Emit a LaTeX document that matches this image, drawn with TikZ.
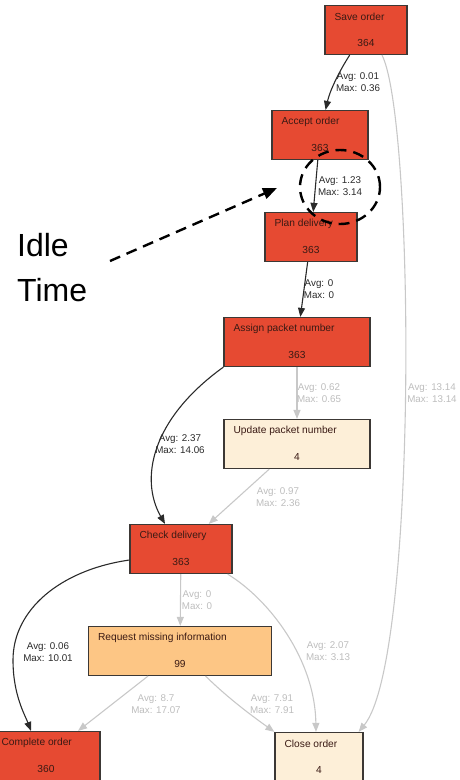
\documentclass[tikz,border=0pt]{standalone}
\usepackage{fontspec}
\setmainfont{Liberation Sans}
\usepackage{xcolor}
\usepackage{tikz}
\usetikzlibrary{arrows.meta,calc,positioning,shapes.geometric}
\definecolor{busyred}{HTML}{E64A32}
\definecolor{lowbeige}{HTML}{FDEFD8}
\definecolor{midorange}{HTML}{FDC685}
\definecolor{boxline}{HTML}{3C3835}
\definecolor{boxtext}{HTML}{3A1A14}
\definecolor{darkedge}{HTML}{2A2A2A}
\definecolor{lightedge}{HTML}{C8C8C8}
\definecolor{lightlabel}{HTML}{BDBDBD}
\tikzset{
  actbox/.style={draw=boxline,line width=1.2pt,minimum height=49pt,inner sep=0pt},
  acttitle/.style={anchor=west,inner sep=0pt,text=boxtext,font=\fontsize{10.2}{12}\selectfont},
  actcount/.style={inner sep=0pt,text=boxtext,font=\fontsize{10.2}{12}\selectfont},
  busyflow/.style={-{Triangle[length=9pt,width=7pt]},line width=1.1pt,darkedge},
  quietflow/.style={-{Triangle[length=9pt,width=7pt]},line width=1.1pt,lightedge},
  busylabel/.style={align=center,inner sep=0pt,text=darkedge,font=\fontsize{9.8}{12.5}\selectfont},
  quietlabel/.style={align=center,inner sep=0pt,text=lightlabel,font=\fontsize{9.8}{12.5}\selectfont},
  idlering/.style={ellipse,draw=black,line width=2.4pt,dash pattern=on 11pt off 7pt,minimum width=80pt,minimum height=74pt},
  idlearrow/.style={-{Triangle[length=14pt,width=11pt]},line width=2.4pt,dash pattern=on 11pt off 7pt},
  idletext/.style={anchor=north west,align=left,inner sep=0pt,font=\fontsize{32}{45}\selectfont}
}

\begin{document}
\begin{tikzpicture}[x=1pt,y=-1pt]
  \useasboundingbox (0,0) rectangle (460,780);
  % activities: name/x/y/width/fill/title/count
  \foreach \nm/\x/\y/\w/\clr/\ttl/\cnt in {
      save/366/30/82/busyred/Save order/364,
      accept/320/135/96/busyred/Accept order/363,
      plan/311/237/92/busyred/Plan delivery/363,
      assign/297/342/146/busyred/Assign packet number/363,
      update/297/444/146/lowbeige/Update packet number/4,
      check/181/549/102/busyred/Check delivery/363,
      request/180/651/183/midorange/Request missing information/99,
      complete/46/756/108/busyred/Complete order/360,
      close/319/757/88/lowbeige/Close order/4}{
    \node[actbox,fill=\clr,minimum width=\w pt] (\nm) at (\x,\y) {};
    \node[acttitle] (\nm-title) at ([shift={(10pt,-12pt)}]\nm.north west) {\ttl};
    \node[actcount] (\nm-count) at ([yshift=12pt]\nm.south) {\cnt};
  }

  % flows
  \draw[busyflow] (save) .. controls (340,70) and (330,90) .. (accept);
  \draw[quietflow] ([xshift=16pt]save.south) .. controls (415,120) and (418,660) .. ([xshift=-5pt]close.north east);
  \draw[busyflow] (accept) -- (plan);
  \draw[busyflow] (plan) -- (assign);
  \draw[quietflow] (assign) -- (update);
  \draw[busyflow] (assign.south west) .. controls (150,420) and (140,480) .. ([xshift=-16pt]check.north);
  \draw[quietflow] (update) -- (check);
  \draw[quietflow] (check) -- (request);
  \draw[quietflow] ([xshift=-5pt]check.south east) .. controls (270,600) and (315,660) .. ([xshift=-3pt]close.north);
  \draw[busyflow] ([yshift=-11pt]check.west) .. controls (60,570) and (13,610) .. (13,660)
    .. controls (13,695) and (25,715) .. ([xshift=-15pt]complete.north);
  \draw[quietflow] (request) -- (complete);
  \draw[quietflow] (request) .. controls (230,700) and (255,718) .. (close.north west);

  % waiting times
  \node[busylabel] (save-accept) at (358,82) {Avg: 0.01\\Max: 0.36};
  \node[busylabel] (accept-plan) at (340,186) {Avg: 1.23\\Max: 3.14};
  \node[busylabel] (plan-assign) at (319,289) {Avg: 0\\Max: 0};
  \node[quietlabel] (assign-update) at (319,393) {Avg: 0.62\\Max: 0.65};
  \node[quietlabel] (save-close) at (432,393) {Avg: 13.14\\Max: 13.14};
  \node[busylabel] (assign-check) at (180,444) {Avg: 2.37\\Max: 14.06};
  \node[quietlabel] (update-check) at (278,497) {Avg: 0.97\\Max: 2.36};
  \node[quietlabel] (check-request) at (197,600) {Avg: 0\\Max: 0};
  \node[quietlabel] (check-close) at (328,651) {Avg: 2.07\\Max: 3.13};
  \node[busylabel] (check-complete) at (48,652) {Avg: 0.06\\Max: 10.01};
  \node[quietlabel] (request-complete) at (156,704) {Avg: 8.7\\Max: 17.07};
  \node[quietlabel] (request-close) at (272,704) {Avg: 7.91\\Max: 7.91};

  % idle time callout
  \node[idlering] (ring) at (340,187) {};
  \node[idletext] (idle) at (17,233) {Idle\\Time};
  \coordinate (idle-from) at (110,261);
  \coordinate (idle-to) at (277,188);
  \draw[idlearrow] (idle-from) -- (idle-to);
\end{tikzpicture}
\end{document}
